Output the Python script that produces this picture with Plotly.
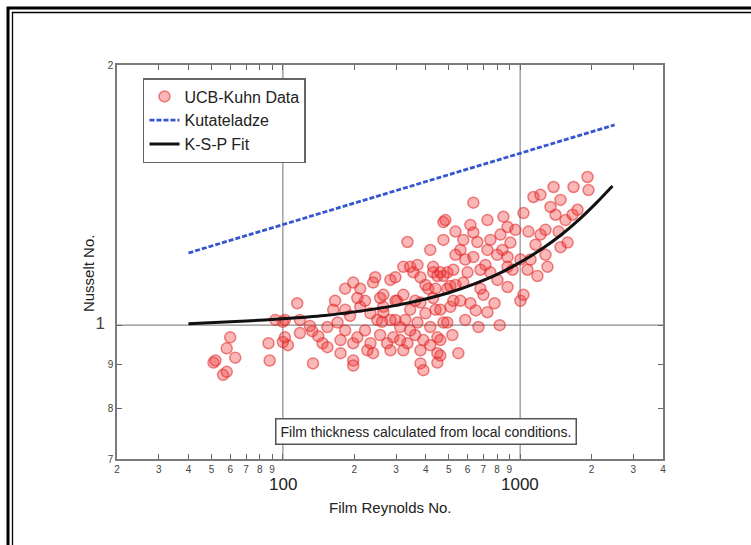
import numpy as np
import plotly.graph_objects as go

# UCB-Kuhn condensation data: film Reynolds number and Nusselt number
kuhn_re = [51, 52, 56, 58, 60, 58, 63, 87, 88, 115, 93, 100, 102, 100, 105, 102,
           134, 147, 154, 154, 163, 170, 175, 175, 192, 198, 198, 198, 198, 206, 206,
           212, 227, 234, 240, 240, 250, 257, 262, 265, 265, 265, 275, 284, 284, 292,
           303, 312, 322, 322, 322, 335, 335, 344, 344, 355, 369, 369, 380, 380, 380,
           391, 391, 418, 430, 430, 430, 448, 448, 448, 448, 475, 475, 475, 475, 484,
           493, 493, 493, 461, 461, 461, 508, 508, 523, 523, 549, 560, 576, 587, 600,
           617, 635, 635, 635, 660, 667, 680, 700, 728, 728, 728, 749, 749, 842, 850,
           885, 885, 885, 885, 910, 1003, 1033, 1033, 1074, 1084, 1106, 1138, 1183,
           1218, 1304, 1343, 1383, 1480, 1553, 1585, 1663, 1679, 1746, 1923, 1941,
           183, 222, 298, 361, 399, 410, 440, 576, 534, 802, 955, 1279, 1452, 118, 133,
           141, 650, 780, 820,
           166, 183, 222, 234, 284, 298, 328, 361, 399, 440, 461, 534, 560, 587, 680,
           714, 800, 826, 929, 1161, 1279, 1410, 1480, 1218, 1003, 617, 534, 418, 380,
           298, 245, 212, 183, 257, 312, 344, 418, 518, 118, 130]
kuhn_nu = [0.905, 0.910, 0.876, 0.883, 0.968, 0.940, 0.917, 0.953, 0.910, 1.060,
           1.014, 1.009, 1.014, 0.956, 0.948, 0.968, 0.903, 0.953, 0.995, 0.943, 1.042,
           1.007, 0.961, 0.928, 1.025, 0.953, 0.910, 0.898, 1.120, 1.075, 0.968, 1.050,
           0.935, 0.953, 1.120, 0.928, 1.014, 1.075, 1.009, 1.050, 1.035, 1.084, 0.953,
           1.128, 0.935, 0.968, 1.067, 0.995, 1.168, 1.084, 0.935, 1.248, 0.953, 1.042,
           1.168, 1.151, 1.174, 1.007, 1.062, 0.935, 0.903, 0.961, 0.887, 0.995, 1.168,
           1.151, 1.075, 1.140, 0.968, 0.928, 0.905, 1.316, 1.255, 1.140, 1.007, 1.323,
           1.151, 1.102, 1.007, 1.151, 0.961, 0.922, 1.110, 1.050, 1.159, 1.067, 0.928,
           1.222, 1.120, 1.014, 1.151, 1.060, 1.386, 1.280, 1.199, 1.248, 0.995, 1.159,
           1.084, 1.323, 1.222, 1.035, 1.255, 1.151, 1.222, 1.335, 1.299, 1.199, 1.168,
           1.107, 1.246, 1.067, 1.348, 1.084, 1.159, 1.283, 1.191, 1.407, 1.140, 1.273,
           1.168, 1.370, 1.445, 1.231, 1.323, 1.246, 1.342, 1.445, 1.360, 1.484, 1.433,
           0.986, 0.986, 1.014, 0.974, 1.032, 1.102, 1.042, 1.255, 1.283, 1.128, 1.289,
           1.206, 1.283, 0.979, 0.984, 0.971, 1.040, 1.060, 1.000,
           1.067, 1.102, 1.067, 1.032, 1.014, 1.067, 1.014, 1.067, 1.113, 1.102, 1.042,
           1.113, 1.067, 1.191, 1.102, 1.174, 1.206, 1.273, 1.159, 1.239, 1.289, 1.342,
           1.396, 1.415, 1.191, 1.306, 1.206, 1.222, 1.136, 1.136, 1.136, 1.102, 1.042,
           0.974, 0.961, 0.986, 0.948, 0.974, 1.014, 0.998]

# Kutateladze correlation
kut_re = [40, 100, 1000, 2500]
kut_nu = [1.212, 1.307, 1.580, 1.705]

# K-S-P fit curve
ksp_re = [40, 70, 100, 150, 200, 300, 400, 500, 650, 800, 1000, 1250, 1500, 1800,
          2100, 2450]
ksp_nu = [1.004, 1.011, 1.017, 1.026, 1.036, 1.054, 1.072, 1.090, 1.118, 1.145,
          1.182, 1.228, 1.274, 1.330, 1.386, 1.449]

# Axis ticks
x_minor_vals = [20, 30, 40, 50, 60, 70, 80, 90, 200, 300, 400, 500, 600, 700, 800,
                900, 2000, 3000, 4000]
x_minor_text = ["2", "3", "4", "5", "6", "7", "8", "9", "2", "3", "4", "5", "6", "7",
                "8", "9", "2", "3", "4"]
x_major_vals = [100, 1000]
x_major_text = ["100", "1000"]
y_tick_vals = [0.7, 0.8, 0.9, 1.0, 2.0]
y_tick_text = ["7", "8", "9", "<span style='font-size:17px'>1</span>   ", "2"]

FONT = "Liberation Sans, Arial, Helvetica, sans-serif"

fig = go.Figure()
fig.add_trace(go.Scatter(
    x=kuhn_re, y=kuhn_nu, mode="markers", name="UCB-Kuhn Data",
    marker=dict(symbol="circle", size=11, color="rgba(238,55,55,0.36)",
                line=dict(color="rgba(225,35,35,0.55)", width=1.5)),
))
fig.add_trace(go.Scatter(
    x=kut_re, y=kut_nu, mode="lines", name="Kutateladze",
    line=dict(color="#3556d0", width=2.8, dash="5px,2px"),
))
fig.add_trace(go.Scatter(
    x=ksp_re, y=ksp_nu, mode="lines", name="K-S-P Fit",
    line=dict(color="#111111", width=3, shape="spline", smoothing=0.6),
))

axis_common = dict(
    type="log", showgrid=False, zeroline=False, showline=True, linecolor="#7a7a7a",
    linewidth=1.5, mirror="ticks", ticks="inside", ticklen=5, tickwidth=1,
    tickcolor="#666666", tickfont=dict(size=10, color="#444444", family=FONT),
)
fig.update_xaxes(
    **axis_common,
    range=[np.log10(20), np.log10(4000)],
    tickvals=x_minor_vals + x_major_vals,
    ticktext=x_minor_text + ["", ""],
)
fig.update_yaxes(
    **axis_common,
    range=[np.log10(0.7), np.log10(2.0)],
    tickvals=y_tick_vals,
    ticktext=y_tick_text,
)

shapes = []
# major grid lines
for v in x_major_vals:
    shapes.append(dict(type="line", xref="x", yref="paper", x0=v, x1=v, y0=0, y1=1,
                       line=dict(color="#8a8a8a", width=1.2), layer="below"))
shapes.append(dict(type="line", xref="paper", yref="y", x0=0, x1=1, y0=1.0, y1=1.0,
                   line=dict(color="#8a8a8a", width=1.2), layer="below"))
# double page frame
shapes.append(dict(type="rect", xref="paper", yref="paper",
                   x0=-0.1996, x1=1.30, y0=-0.40, y1=1.1447,
                   line=dict(color="#000000", width=3)))
shapes.append(dict(type="rect", xref="paper", yref="paper",
                   x0=-0.1914, x1=1.30, y0=-0.40, y1=1.1332,
                   line=dict(color="#000000", width=1.3)))

annotations = []
for v, t in zip(x_major_vals, x_major_text):
    annotations.append(dict(x=np.log10(v), xref="x", y=-0.0635, yref="paper",
                            text=t, showarrow=False, yanchor="middle",
                            font=dict(size=17, color="#222222", family=FONT)))
annotations.append(dict(x=0.5, xref="paper", y=-0.122, yref="paper",
                        text="Film Reynolds No.", showarrow=False, yanchor="middle",
                        font=dict(size=15, color="#222222", family=FONT)))
annotations.append(dict(x=-0.053, xref="paper", y=0.472, yref="paper",
                        text="Nusselt No.", showarrow=False, textangle=-90,
                        xanchor="center", yanchor="middle",
                        font=dict(size=15, color="#222222", family=FONT)))
annotations.append(dict(x=0.566, xref="paper", y=0.071, yref="paper",
                        text="Film thickness calculated from local conditions.",
                        showarrow=False, xanchor="center", yanchor="middle",
                        bgcolor="white", bordercolor="#555555", borderwidth=1.5,
                        borderpad=4, font=dict(size=14, color="#222222", family=FONT)))

fig.update_layout(
    width=751, height=545,
    margin=dict(l=117, r=88, t=65, b=86),
    paper_bgcolor="white", plot_bgcolor="white",
    font=dict(family=FONT, color="#222222"),
    showlegend=True,
    legend=dict(x=0.0476, y=0.967, xanchor="left", yanchor="top",
                bgcolor="white", bordercolor="#666666", borderwidth=1.5,
                font=dict(size=16, color="#222222", family=FONT),
                tracegroupgap=0),
    shapes=shapes,
    annotations=annotations,
)

fig.write_html("out.html")
